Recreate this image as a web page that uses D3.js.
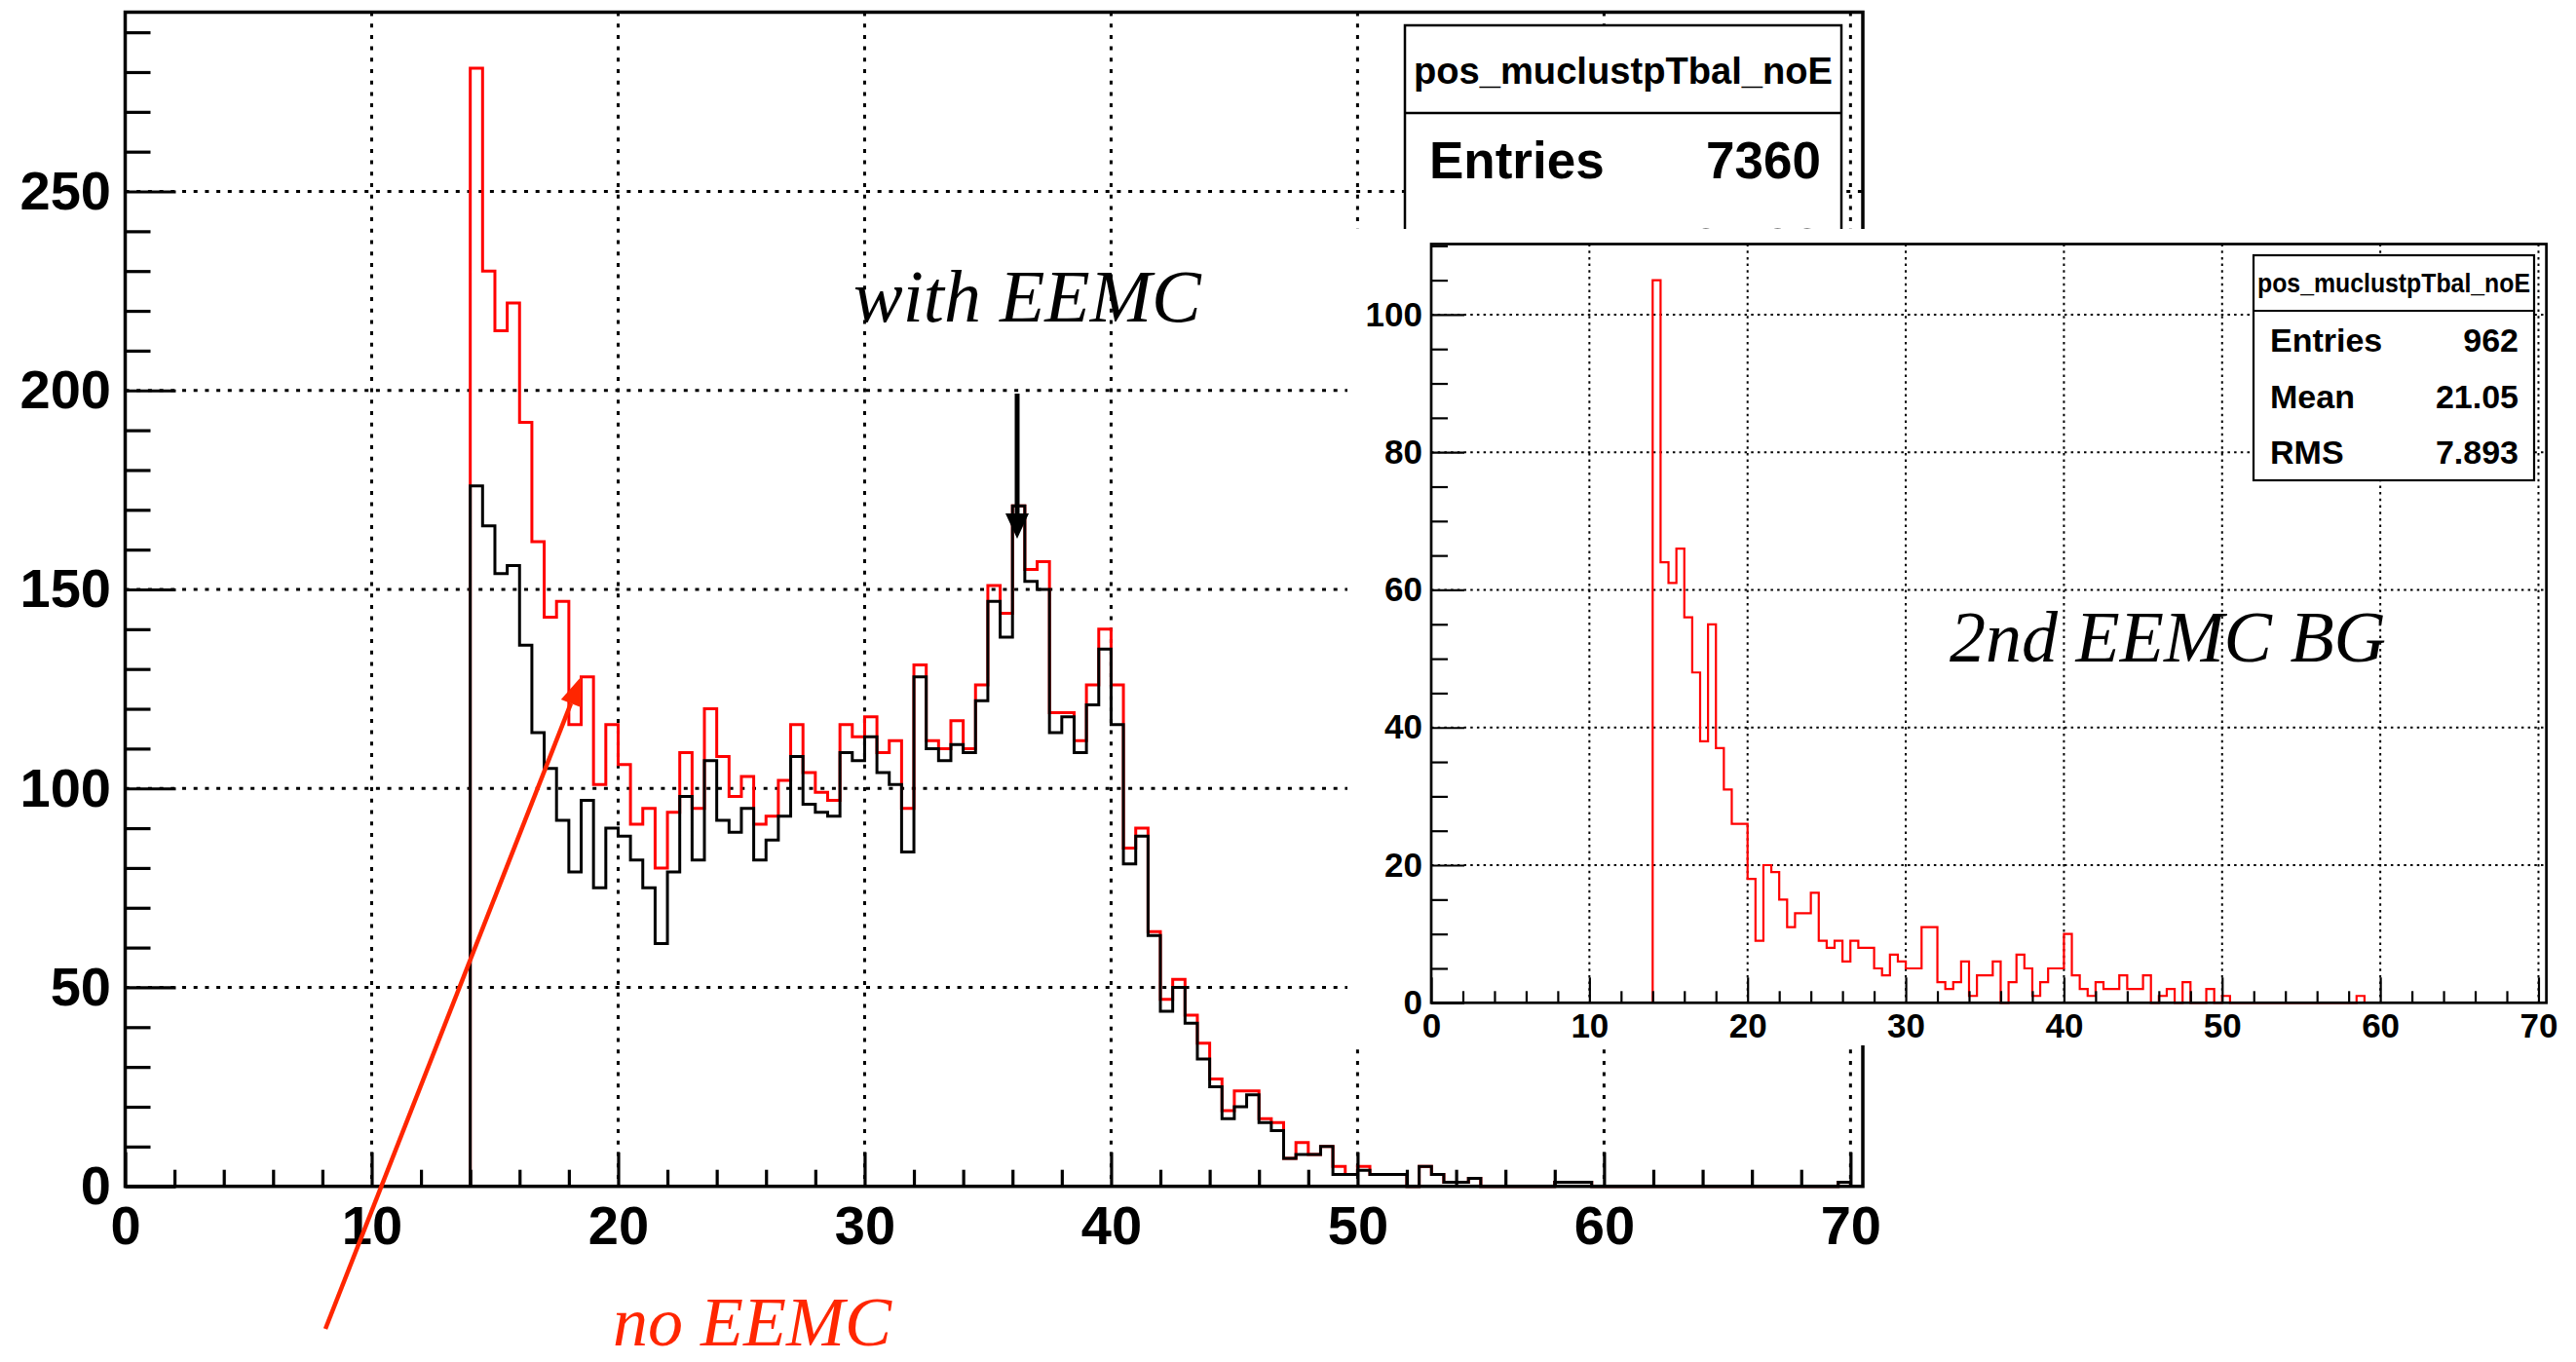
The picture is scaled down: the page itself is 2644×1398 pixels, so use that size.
<!DOCTYPE html>
<html>
<head>
<meta charset="utf-8">
<script src="https://cdn.jsdelivr.net/npm/d3@7"></script>
<style>
  body { margin: 0; background: #fff; }
  svg { display: block; }
</style>
</head>
<body>
<div class="wrapper"></div>
<script>
// histogram contents, 0.5 wide bins, first filled bin starts at x = 14
const binWidth = 0.5;
const mainStart = 14;
const noEEMC = [
  281, 230, 215, 222, 192, 162, 143, 147, 116, 128,
  101, 116, 106, 91, 95, 80, 94, 109, 95, 120,
  108, 98, 103, 91, 93, 102, 116, 104, 99, 97,
  116, 113, 118, 109, 112, 95, 131, 112, 110, 117,
  110, 126, 151, 144, 171, 155, 157, 119, 119, 112,
  126, 140, 126, 85, 90, 64, 47, 52, 43, 36,
  27, 19, 24, 24, 17, 16, 7, 11, 8, 10,
  5, 3, 5, 3, 3, 3, 0, 5, 3, 1,
  1, 2, 0, 0, 0, 0, 0, 0, 1, 1,
  1, 0, 0, 0, 0, 0, 0, 0, 0, 0,
  0, 0, 0, 0, 0, 0, 0, 0, 0, 0,
  0, 1
];
const withEEMC = [
  176, 166, 154, 156, 136, 114, 105, 92, 79, 97,
  75, 90, 88, 82, 75, 61, 79, 98, 82, 107,
  92, 89, 95, 82, 87, 93, 108, 96, 94, 93,
  109, 107, 113, 104, 101, 84, 128, 110, 107, 111,
  109, 122, 147, 138, 171, 152, 150, 114, 118, 109,
  121, 135, 116, 81, 88, 63, 44, 50, 41, 32,
  25, 17, 20, 23, 16, 14, 7, 8, 8, 10,
  3, 3, 4, 3, 3, 3, 0, 5, 3, 1,
  1, 2, 0, 0, 0, 0, 0, 0, 1, 1,
  1, 0, 0, 0, 0, 0, 0, 0, 0, 0,
  0, 0, 0, 0, 0, 0, 0, 0, 0, 0,
  0, 1
];
const insetStart = 14;
const secondBG = [
  105, 64, 61, 66, 56, 48, 38, 55, 37, 31,
  26, 26, 18, 9, 20, 19, 15, 11, 13, 13,
  16, 9, 8, 9, 6, 9, 8, 8, 5, 4,
  7, 6, 5, 5, 11, 11, 3, 2, 3, 6,
  1, 4, 4, 6, 0, 3, 7, 5, 1, 3,
  5, 5, 10, 4, 2, 1, 3, 2, 2, 4,
  2, 2, 4, 0, 1, 2, 0, 3, 0, 0,
  2, 0, 1, 0, 0, 0, 0, 0, 0, 0,
  0, 0, 0, 0, 0, 0, 0, 0, 0, 1
];

const xTicks = [0, 10, 20, 30, 40, 50, 60, 70];
const mainYTicks = [0, 50, 100, 150, 200, 250];
const insetYTicks = [0, 20, 40, 60, 80, 100];

const histName = "pos_muclustpTbal_noE";
const mainStats = [["Entries", "7360"], ["Mean", "27.36"], ["RMS", "9.712"]];
const insetStats = [["Entries", "962"], ["Mean", "21.05"], ["RMS", "7.893"]];

const W = 2644, H = 1398;
const sans = '"Liberation Sans", Arial, Helvetica, sans-serif';
const serif = '"Liberation Serif", "Times New Roman", serif';

const svg = d3.select(".wrapper").append("svg")
  .attr("width", W).attr("height", H);
svg.append("rect").attr("width", W).attr("height", H).attr("fill", "#fff");

function panel(g, p) {
  const x = d3.scaleLinear().domain([0, 70.5]).range([p.left, p.right]);
  const y = d3.scaleLinear().domain([0, p.ymax]).range([p.bottom, p.top]);

  // dotted grid
  g.append("g").selectAll("line").data(xTicks.filter(d => d > 0)).join("line")
    .attr("x1", d => x(d)).attr("x2", d => x(d))
    .attr("y1", p.top).attr("y2", p.bottom);
  g.append("g").selectAll("line").data(p.yTicks.filter(d => d > 0)).join("line")
    .attr("x1", p.left).attr("x2", p.right)
    .attr("y1", d => y(d)).attr("y2", d => y(d));
  g.selectAll("g line")
    .attr("stroke", "#000").attr("stroke-width", p.gridW)
    .attr("stroke-dasharray", p.dash);

  // histograms, drawn as ROOT step outlines
  const line = d3.line().x(d => x(d[0])).y(d => y(d[1])).curve(d3.curveStepAfter);
  p.hists.forEach(h => {
    const pts = [[h.start, 0]];
    h.values.forEach((v, i) => pts.push([h.start + i * binWidth, v]));
    pts.push([h.start + h.values.length * binWidth, 0]);
    g.append("path").attr("d", line(pts))
      .attr("fill", "none").attr("stroke", h.color)
      .attr("stroke-width", p.histW).attr("stroke-linejoin", "miter");
  });

  // axes, ticks pointing into the frame
  const styleAxis = s => {
    s.select(".domain").remove();
    s.selectAll("line").attr("stroke", "#000").attr("stroke-width", p.tickW);
    s.selectAll("text").attr("fill", "#000")
      .style("font-family", sans).style("font-weight", "bold")
      .style("font-size", p.fs + "px");
  };
  const yMinor = d3.range(0, p.ymax, p.yMinorStep).filter(d => !p.yTicks.includes(d));
  const xMinor = d3.range(0, 70.01, 2).filter(d => !xTicks.includes(d));

  g.append("g").attr("transform", `translate(${p.left},0)`)
    .call(d3.axisLeft(y).tickValues(p.yTicks).tickSizeInner(-p.yMajorLen)
      .tickSizeOuter(0).tickPadding(p.yPad).tickFormat(d3.format("d")))
    .call(styleAxis);
  g.append("g").attr("transform", `translate(${p.left},0)`)
    .call(d3.axisLeft(y).tickValues(yMinor).tickSizeInner(-p.yMinorLen)
      .tickSizeOuter(0).tickFormat(""))
    .call(styleAxis);
  g.append("g").attr("transform", `translate(0,${p.bottom})`)
    .call(d3.axisBottom(x).tickValues(xTicks).tickSizeInner(-p.xMajorLen)
      .tickSizeOuter(0).tickFormat(d3.format("d")))
    .call(styleAxis)
    .call(s => s.selectAll("text").attr("dy", null).attr("y", p.xLabelY));
  g.append("g").attr("transform", `translate(0,${p.bottom})`)
    .call(d3.axisBottom(x).tickValues(xMinor).tickSizeInner(-p.xMinorLen)
      .tickSizeOuter(0).tickFormat(""))
    .call(styleAxis);

  g.append("rect")
    .attr("x", p.left).attr("y", p.top)
    .attr("width", p.right - p.left).attr("height", p.bottom - p.top)
    .attr("fill", "none").attr("stroke", "#000").attr("stroke-width", p.frameW);
  return {x, y};
}

function statsBox(g, b, rows) {
  g.append("rect").attr("x", b.left).attr("y", b.top)
    .attr("width", b.right - b.left).attr("height", b.bottom - b.top)
    .attr("fill", "#fff").attr("stroke", "#000").attr("stroke-width", b.lw);
  g.append("line").attr("x1", b.left).attr("x2", b.right)
    .attr("y1", b.divider).attr("y2", b.divider)
    .attr("stroke", "#000").attr("stroke-width", b.lw);
  g.append("text").attr("x", (b.left + b.right) / 2).attr("y", b.titleY)
    .attr("text-anchor", "middle")
    .attr("textLength", b.titleLen).attr("lengthAdjust", "spacingAndGlyphs")
    .style("font-family", sans).style("font-weight", "bold")
    .style("font-size", b.titleFs + "px").text(histName);
  rows.forEach((r, i) => {
    const yy = b.rowY + i * b.rowStep;
    g.append("text").attr("x", b.labelX).attr("y", yy)
      .style("font-family", sans).style("font-weight", "bold")
      .style("font-size", b.fs + "px").text(r[0]);
    g.append("text").attr("x", b.valueX).attr("y", yy).attr("text-anchor", "end")
      .style("font-family", sans).style("font-weight", "bold")
      .style("font-size", b.fs + "px").text(r[1]);
  });
}

function arrow(g, x1, y1, x2, y2, color, lw, headLen, headW) {
  const a = Math.atan2(y2 - y1, x2 - x1);
  const bx = x2 - headLen * Math.cos(a), by = y2 - headLen * Math.sin(a);
  g.append("line").attr("x1", x1).attr("y1", y1).attr("x2", bx).attr("y2", by)
    .attr("stroke", color).attr("stroke-width", lw);
  const nx = -Math.sin(a) * headW / 2, ny = Math.cos(a) * headW / 2;
  g.append("path")
    .attr("d", `M${x2},${y2}L${bx + nx},${by + ny}L${bx - nx},${by - ny}Z`)
    .attr("fill", color);
}

// ---- main pad
const main = svg.append("g");
panel(main, {
  left: 128.5, right: 1912, top: 12.5, bottom: 1217.7, ymax: 295.05,
  yTicks: mainYTicks, yMinorStep: 10,
  gridW: 3, dash: "4,7.7", histW: 3, tickW: 3.2, frameW: 3.5, fs: 56,
  yMajorLen: 52, yMinorLen: 26, xMajorLen: 35, xMinorLen: 17,
  yPad: 14.5, xLabelY: 59,
  hists: [
    {start: mainStart, values: noEEMC, color: "#ff0000"},
    {start: mainStart, values: withEEMC, color: "#000"}
  ]
});

statsBox(main, {
  left: 1442, right: 1890, top: 26, divider: 116, bottom: 385, lw: 2.5,
  titleY: 86, titleFs: 38, titleLen: 430,
  labelX: 1467, valueX: 1869, rowY: 183, rowStep: 89, fs: 53
}, mainStats);

// annotations on the main pad
main.append("text").attr("x", 876).attr("y", 330)
  .style("font-family", serif).style("font-style", "italic")
  .style("font-size", "76px").attr("fill", "#000").text("with EEMC");
arrow(main, 1044, 404, 1044, 553, "#000", 5, 26, 24);
arrow(main, 334, 1364, 597, 694, "#ff2600", 4.5, 30, 22);
main.append("text").attr("x", 629).attr("y", 1381)
  .style("font-family", serif).style("font-style", "italic")
  .style("font-size", "72px").attr("fill", "#ff2600").text("no EEMC");

// ---- inset pad
const inset = svg.append("g");
inset.append("rect").attr("x", 1383).attr("y", 235)
  .attr("width", W - 1383).attr("height", 1073 - 235).attr("fill", "#fff");
panel(inset, {
  left: 1469, right: 2613.6, top: 250.5, bottom: 1029.3, ymax: 110.25,
  yTicks: insetYTicks, yMinorStep: 5,
  gridW: 2, dash: "2.5,4.2", histW: 2.2, tickW: 2.2, frameW: 2.7, fs: 35,
  yMajorLen: 34, yMinorLen: 17, xMajorLen: 26, xMinorLen: 12,
  yPad: 9, xLabelY: 36,
  hists: [{start: insetStart, values: secondBG, color: "#ff0000"}]
});

statsBox(inset, {
  left: 2313, right: 2601, top: 262, divider: 319, bottom: 493, lw: 2.2,
  titleY: 300, titleFs: 27, titleLen: 280,
  labelX: 2330, valueX: 2585, rowY: 361, rowStep: 57.5, fs: 34
}, insetStats);

inset.append("text").attr("x", 2001).attr("y", 679)
  .style("font-family", serif).style("font-style", "italic")
  .style("font-size", "74px").attr("fill", "#000").text("2nd EEMC BG");
</script>
</body>
</html>
